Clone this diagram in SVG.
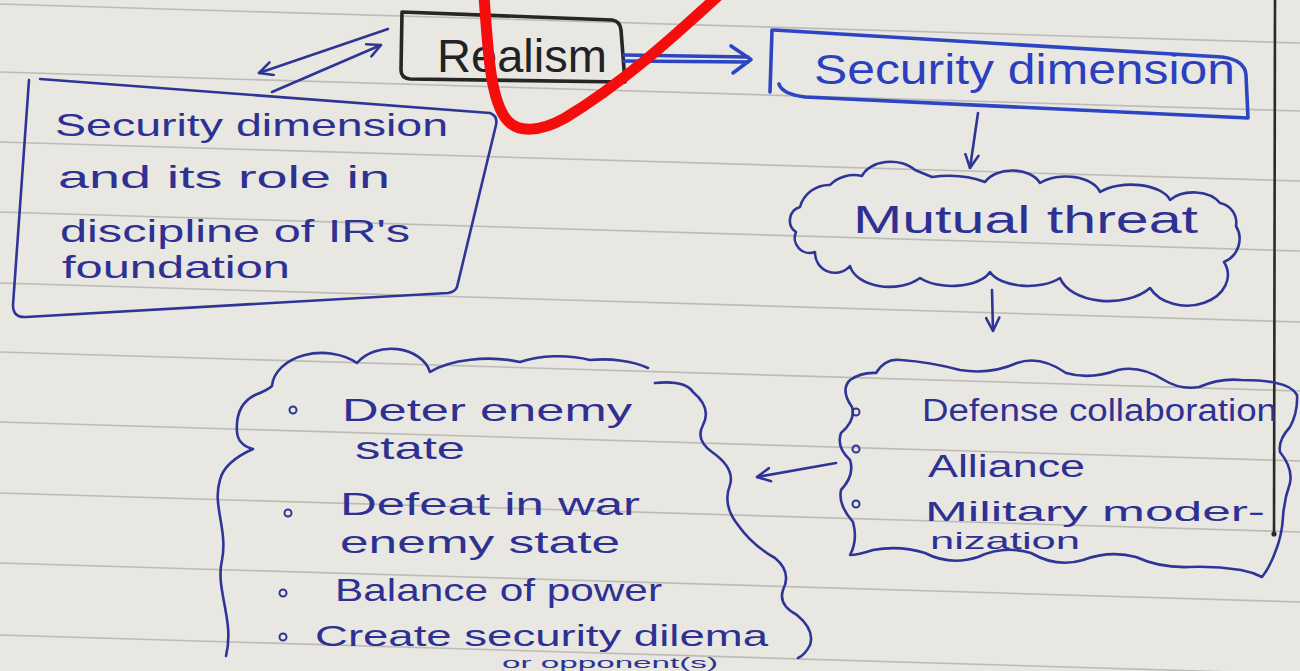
<svg xmlns="http://www.w3.org/2000/svg" width="1300" height="671" viewBox="0 0 1300 671">
<style>
.rule{stroke:#bcbbb5;stroke-width:1.6;fill:none}
.ink{stroke:#2e3596;stroke-width:2.6;fill:none;stroke-linecap:round;stroke-linejoin:round}
.vivid{stroke:#2b45c4;stroke-width:3.6;fill:none;stroke-linecap:round;stroke-linejoin:round}
.blk{stroke:#262626;stroke-width:3.6;fill:none;stroke-linecap:round;stroke-linejoin:round}
.t{font-family:"Liberation Sans","DejaVu Sans",sans-serif;fill:#2e3192}
.tv{font-family:"Liberation Sans","DejaVu Sans",sans-serif;fill:#2b3fbf}
.tb{font-family:"Liberation Sans","DejaVu Sans",sans-serif;fill:#222}
.bul{stroke:#2e3596;stroke-width:2;fill:none}
</style>
<defs>
<marker id="head" viewBox="0 0 12 12" refX="11" refY="6" markerWidth="16" markerHeight="16" markerUnits="userSpaceOnUse" orient="auto">
<path d="M1,1 L11,6 L1,11" fill="none" stroke="#2e3596" stroke-width="1.9" stroke-linecap="round" stroke-linejoin="round"/>
</marker>
</defs>
<rect x="0" y="0" width="1300" height="671" fill="#e8e7e2"/>
<g id="paper-rules">
<line class="rule" x1="0" y1="4" x2="1300" y2="43"/>
<line class="rule" x1="0" y1="72" x2="1300" y2="111"/>
<line class="rule" x1="0" y1="142" x2="1300" y2="181"/>
<line class="rule" x1="0" y1="212" x2="1300" y2="251"/>
<line class="rule" x1="0" y1="283" x2="1300" y2="322"/>
<line class="rule" x1="0" y1="352" x2="1300" y2="391"/>
<line class="rule" x1="0" y1="422" x2="1300" y2="461"/>
<line class="rule" x1="0" y1="493" x2="1300" y2="532"/>
<line class="rule" x1="0" y1="563" x2="1300" y2="602"/>
<line class="rule" x1="0" y1="635" x2="1300" y2="674"/>
<line x1="1275" y1="0" x2="1274" y2="534" stroke="#2a2a2a" stroke-width="2.6"/>
<circle cx="1274" cy="534" r="2.6" fill="#2a2a2a"/>
</g>
<g id="node-realism">
<path class="blk" d="M402 12 L612 20 Q620 21 621 30 L625 82 L410 79 Q401 78 401 70 Z"/>
<text class="tb" x="437" y="72" font-size="46" textLength="170" lengthAdjust="spacingAndGlyphs">Realism</text>
</g>
<g id="node-foundation">
<path class="ink" d="M40 79 L490 113 Q498 116 496 125 L457 287 Q455 292 448 293 L26 317 Q13 318 13 305 L29 80"/>
<text class="t" x="55" y="136" font-size="32" textLength="393" lengthAdjust="spacingAndGlyphs">Security dimension</text>
<text class="t" x="58" y="188" font-size="32" textLength="332" lengthAdjust="spacingAndGlyphs">and its role in</text>
<text class="t" x="60" y="242" font-size="32" textLength="350" lengthAdjust="spacingAndGlyphs">discipline of IR's</text>
<text class="t" x="62" y="278" font-size="32" textLength="228" lengthAdjust="spacingAndGlyphs">foundation</text>
</g>
<g id="node-security">
<path class="vivid" d="M772 30 L770 92 M774 30 L1222 57 Q1245 60 1246 75 L1248 118 L805 97 Q782 94 779 84"/>
<text class="tv" x="814" y="84" font-size="42" textLength="421" lengthAdjust="spacingAndGlyphs">Security dimension</text>
</g>
<g id="node-mutual-threat">
<path class="ink" d="M796 232 A14 14 0 0 1 800 207 A30 30 0 0 1 830 185 A30 25 0 0 1 862 176 A30 20 0 0 1 915 170 L932 177 A60 30 0 0 1 985 182 A30 20 0 0 1 1040 183 A35 20 0 0 1 1100 192 A40 20 0 0 1 1170 200 A30 20 0 0 1 1220 203 A20 20 0 0 1 1236 226 A25 25 0 0 1 1224 262 A40 30 0 0 1 1150 288 A50 30 0 0 1 1060 278 A40 20 0 0 1 990 272 A40 20 0 0 1 920 278 A40 25 0 0 1 850 266 A20 20 0 0 1 815 252 A15 15 0 0 1 796 232 Z"/>
<text class="t" x="853" y="233" font-size="38" textLength="345" lengthAdjust="spacingAndGlyphs">Mutual threat</text>
</g>
<g id="node-measures">
<path class="ink" d="M850 555 Q858 540 853 522 Q838 505 841 490 Q855 475 850 460 Q836 447 841 433 Q856 420 852 407 Q840 390 850 380 Q862 372 876 373 Q885 358 901 360 Q930 362 960 370 Q990 375 1017 363 Q1040 355 1066 373 Q1090 380 1118 370 Q1140 365 1164 380 Q1180 390 1199 387 Q1220 378 1241 380 Q1265 380 1276 383 Q1292 386 1297 395 Q1298 412 1290 427 Q1278 440 1280 452 Q1293 468 1290 483 Q1284 500 1283 517 Q1282 535 1276 550 Q1270 567 1262 577 Q1252 572 1241 570 Q1215 566 1189 567 Q1160 568 1136 557 Q1110 550 1083 560 Q1057 568 1031 553 Q1004 545 978 557 Q950 566 925 553 Q900 545 873 550 Q858 555 850 555"/>
<circle class="bul" cx="856" cy="412" r="3.5"/>
<circle class="bul" cx="856" cy="449" r="3.5"/>
<circle class="bul" cx="856" cy="504" r="3.5"/>
<text class="t" x="922" y="421" font-size="31" textLength="355" lengthAdjust="spacingAndGlyphs">Defense collaboration</text>
<text class="t" x="928" y="477" font-size="31" textLength="157" lengthAdjust="spacingAndGlyphs">Alliance</text>
<text class="t" x="925" y="521" font-size="28" textLength="340" lengthAdjust="spacingAndGlyphs">Military moder-</text>
<text class="t" x="930" y="549" font-size="24" textLength="150" lengthAdjust="spacingAndGlyphs">nization</text>
</g>
<g id="node-goals">
<path class="ink" d="M226 656 C235 620 215 590 222 560 C228 530 212 505 220 480 Q224 462 253 449 Q238 445 237 432 Q235 405 255 395 Q268 390 272 386 A50 35 0 0 1 357 363 A40 30 0 0 1 430 372 A70 30 0 0 1 520 362 A60 25 0 0 1 590 360 A60 25 0 0 1 648 368"/>
<path class="ink" d="M655 383 Q685 380 693 392 Q712 408 703 425 Q695 440 712 452 Q735 468 730 485 Q722 505 738 525 Q752 545 775 558 Q792 572 783 590 Q778 605 797 615 Q815 630 810 645 Q805 655 798 658"/>
<circle class="bul" cx="293" cy="410" r="3.5"/>
<circle class="bul" cx="288" cy="513" r="3.5"/>
<circle class="bul" cx="283" cy="593" r="3.5"/>
<circle class="bul" cx="283" cy="637" r="3.5"/>
<text class="t" x="342" y="421" font-size="32" textLength="290" lengthAdjust="spacingAndGlyphs">Deter enemy</text>
<text class="t" x="355" y="459" font-size="32" textLength="110" lengthAdjust="spacingAndGlyphs">state</text>
<text class="t" x="340" y="515" font-size="32" textLength="300" lengthAdjust="spacingAndGlyphs">Defeat in war</text>
<text class="t" x="340" y="553" font-size="32" textLength="280" lengthAdjust="spacingAndGlyphs">enemy state</text>
<text class="t" x="335" y="601" font-size="32" textLength="327" lengthAdjust="spacingAndGlyphs">Balance of power</text>
<text class="t" x="315" y="646" font-size="30" textLength="453" lengthAdjust="spacingAndGlyphs">Create security dilema</text>
<text class="t" x="502" y="668" font-size="14" textLength="216" lengthAdjust="spacingAndGlyphs">or opponent(s)</text>
</g>
<g id="connectors">
<line class="ink" x1="388" y1="29" x2="259" y2="73" marker-end="url(#head)"/>
<line class="ink" x1="272" y1="92" x2="381" y2="45" marker-end="url(#head)"/>
<path class="vivid" d="M624 55 L748 57 M624 61 L748 62"/>
<path class="vivid" d="M731 46 L751 59.5 L733 73"/>
<line class="ink" x1="978" y1="113" x2="970" y2="168" marker-end="url(#head)"/>
<line class="ink" x1="992" y1="290" x2="993" y2="331" marker-end="url(#head)"/>
<line class="ink" x1="836" y1="463" x2="757" y2="477" marker-end="url(#head)"/>
</g>
<path id="red-scribble" d="M484 -4 C488 50 490 100 507 120 C518 133 540 132 565 118 C620 85 670 40 718 -4" fill="none" stroke="#f50d0d" stroke-width="11" stroke-linecap="round"/>
</svg>
